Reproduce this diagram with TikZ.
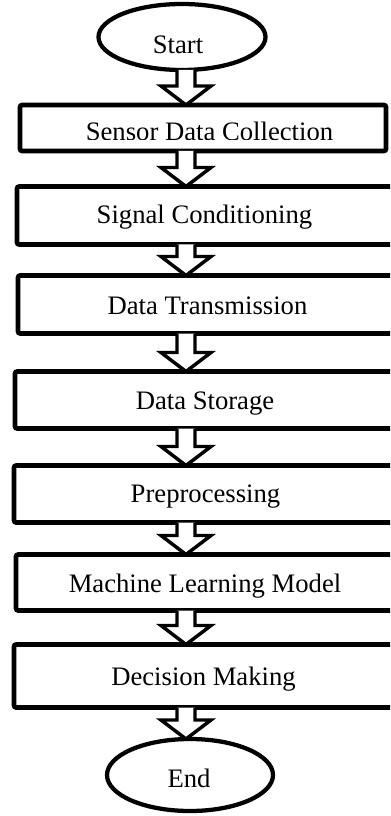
\documentclass[tikz,border=0pt]{standalone}
\usepackage{fontspec}
\setmainfont{Liberation Serif}
\usetikzlibrary{shapes.geometric,fit,calc}
\tikzset{
  boxshape/.style={draw, line width=3.4pt, rounded corners=1.5pt, inner sep=0pt, outer sep=0pt},
  termshape/.style={draw, ellipse, line width=3.2pt, inner sep=0pt, outer sep=0pt},
  txt/.style={inner sep=0pt, anchor=base, font=\fontsize{20pt}{24pt}\selectfont},
  arrowline/.style={draw, line width=2.6pt, line join=miter, fill=white}
}
\newcommand\flowarrow[2]{%
  \path[arrowline] let \p1=(#1.south -| ax), \p2=(#2.north -| ax) in
    (\x1-6.75pt,\y1) -- (\x1-6.75pt,\y2+14.25pt) -- (\x1-18.75pt,\y2+14.25pt)
    -- (\x1,\y2) -- (\x1+18.75pt,\y2+14.25pt) -- (\x1+6.75pt,\y2+14.25pt)
    -- (\x1+6.75pt,\y1);%
}
\begin{document}
\begin{tikzpicture}[x=0.75pt,y=-0.75pt]
\useasboundingbox (0,0) rectangle (390,816);
\clip (0,0) rectangle (390,816);
\fill[white] (0,0) rectangle (390,816);
\coordinate (ax) at (186,0);
% arrows
\node[termshape, minimum width=167*0.75pt, minimum height=66*0.75pt] (start) at (182,37) {};
\node[termshape, minimum width=166*0.75pt, minimum height=72*0.75pt] (end) at (190,775) {};
\node[boxshape, fit={(20,105) (386,151)}] (b1) {};
\node[boxshape, fit={(17,186.5) (400,244.5)}] (b2) {};
\node[boxshape, fit={(18,275.5) (400,333.5)}] (b3) {};
\node[boxshape, fit={(15,371.5) (400,428.5)}] (b4) {};
\node[boxshape, fit={(14,465.5) (400,522.5)}] (b5) {};
\node[boxshape, fit={(16,554.5) (400,610.5)}] (b6) {};
\node[boxshape, fit={(14,644.5) (400,707.5)}] (b7) {};
% texts
\node[txt] (tstart) at (178,53.5) {Start};
\begin{scope}
\clip (0,0) rectangle (390,139.5);
\node[txt] (t1) at (209.5,141) {Sensor Data Collection};
\end{scope}
\node[txt] (t2) at (204.5,223.6) {Signal Conditioning};
\node[txt] (t3) at (207.5,314.6) {Data Transmission};
\node[txt] (t4) at (205,409) {Data Storage};
\node[txt] (t5) at (205.5,502.5) {Preprocessing};
\node[txt] (t6) at (205,592.6) {Machine Learning Model};
\node[txt] (t7) at (203.5,685.5) {Decision Making};
\node[txt] (tend) at (189,787.6) {End};
% connectors
\flowarrow{start}{b1}
\flowarrow{b1}{b2}
\flowarrow{b2}{b3}
\flowarrow{b3}{b4}
\flowarrow{b4}{b5}
\flowarrow{b5}{b6}
\flowarrow{b6}{b7}
\flowarrow{b7}{end}
\end{tikzpicture}
\end{document}
